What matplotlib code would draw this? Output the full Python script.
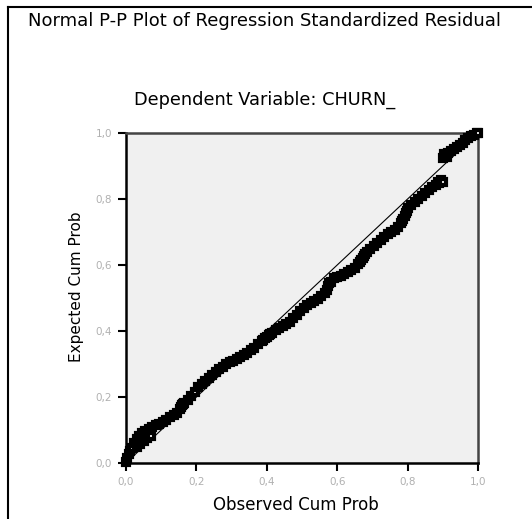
import matplotlib.pyplot as plt
from matplotlib.lines import Line2D

# observed vs expected cumulative probabilities
observed = [0.000, 0.004, 0.008, 0.012, 0.018, 0.024, 0.030, 0.038, 0.046, 0.055,
            0.065, 0.075, 0.085, 0.095, 0.105, 0.115, 0.125, 0.135, 0.145, 0.152,
            0.158, 0.166, 0.175, 0.185, 0.195, 0.205, 0.215, 0.225, 0.235, 0.245,
            0.255, 0.265, 0.275, 0.285, 0.295, 0.305, 0.315, 0.325, 0.335, 0.345,
            0.355, 0.365, 0.375, 0.385, 0.395, 0.405, 0.415, 0.425, 0.435, 0.445,
            0.455, 0.465, 0.475, 0.485, 0.495, 0.505, 0.515, 0.525, 0.535, 0.545,
            0.555, 0.565, 0.575, 0.582, 0.590, 0.600, 0.610, 0.620, 0.630, 0.640,
            0.650, 0.660, 0.668, 0.676, 0.684, 0.694, 0.704, 0.714, 0.724, 0.734,
            0.744, 0.754, 0.764, 0.772, 0.780, 0.788, 0.795, 0.802, 0.810, 0.820,
            0.830, 0.840, 0.850, 0.860, 0.870, 0.880, 0.890, 0.900, 0.885, 0.895,
            0.900, 0.908, 0.916, 0.924, 0.932, 0.940, 0.948, 0.956, 0.964, 0.972,
            0.980, 0.988, 0.996, 1.000, 0.904, 0.912,
            0.030, 0.040, 0.050, 0.060, 0.070, 0.390, 0.400, 0.410,
            0.570, 0.578, 0.664, 0.672, 0.680, 0.784, 0.792, 0.798, 0.155, 0.162]
expected = [0.003, 0.015, 0.028, 0.035, 0.045, 0.060, 0.072, 0.082, 0.090, 0.096,
            0.102, 0.108, 0.114, 0.119, 0.125, 0.131, 0.138, 0.144, 0.152, 0.165,
            0.175, 0.183, 0.192, 0.203, 0.215, 0.229, 0.240, 0.248, 0.257, 0.266,
            0.276, 0.284, 0.292, 0.299, 0.305, 0.309, 0.314, 0.320, 0.327, 0.334,
            0.341, 0.350, 0.360, 0.370, 0.380, 0.388, 0.395, 0.402, 0.408, 0.414,
            0.420, 0.428, 0.438, 0.449, 0.460, 0.470, 0.478, 0.485, 0.492, 0.498,
            0.505, 0.516, 0.535, 0.550, 0.560, 0.564, 0.568, 0.572, 0.578, 0.584,
            0.591, 0.603, 0.615, 0.628, 0.640, 0.650, 0.659, 0.668, 0.677, 0.686,
            0.693, 0.699, 0.705, 0.714, 0.726, 0.740, 0.757, 0.772, 0.782, 0.790,
            0.800, 0.810, 0.819, 0.828, 0.836, 0.842, 0.847, 0.851, 0.852, 0.858,
            0.925, 0.932, 0.938, 0.945, 0.951, 0.958, 0.964, 0.971, 0.978, 0.984,
            0.990, 0.995, 0.999, 1.000, 0.936, 0.926,
            0.050, 0.058, 0.066, 0.075, 0.083, 0.372, 0.382, 0.392,
            0.525, 0.545, 0.609, 0.622, 0.634, 0.733, 0.748, 0.765, 0.170, 0.179]

ticks = [0.0, 0.2, 0.4, 0.6, 0.8, 1.0]
tick_labels = ["0,0", "0,2", "0,4", "0,6", "0,8", "1,0"]

fig = plt.figure(figsize=(5.32, 5.19), dpi=100)
W, H = 532, 519
ax = fig.add_axes([126 / W, (H - 463) / H, 352 / W, 330 / H])
ax.set_facecolor("#f0f0f0")

ax.plot([0, 1], [0, 1], color="black", lw=0.8, zorder=2)
pts = sorted(zip(observed, expected))
ax.plot([p[0] for p in pts], [p[1] for p in pts], ls="none", marker="s",
        ms=5, mfc="white", mec="black", mew=3, zorder=3, clip_on=False)

ax.set_xlim(0, 1)
ax.set_ylim(0, 1)
ax.set_xticks(ticks)
ax.set_xticklabels(tick_labels)
ax.set_yticks(ticks)
ax.set_yticklabels(tick_labels)
ax.tick_params(direction="out", length=6, width=1.5, color="black",
               labelsize=7.5, labelcolor="#b0b0b0", pad=4)

for side in ["left", "bottom"]:
    ax.spines[side].set_linewidth(1.8)
    ax.spines[side].set_color("black")
for side in ["top", "right"]:
    ax.spines[side].set_linewidth(1.8)
    ax.spines[side].set_color("#444444")

fig.text(265 / W, 1 - 21 / H, "Normal P-P Plot of Regression Standardized Residual",
         ha="center", va="center", fontsize=13)
fig.text(265 / W, 1 - 100 / H, "Dependent Variable: CHURN_",
         ha="center", va="center", fontsize=12.8)
fig.text(296 / W, 1 - 505 / H, "Observed Cum Prob",
         ha="center", va="center", fontsize=12)
fig.text(76 / W, 1 - 287 / H, "Expected Cum Prob", rotation=90,
         ha="center", va="center", fontsize=11)

# outer frame lines of the pasted output block
fig.add_artist(Line2D([8 / W, 8 / W], [0, 1 - 7 / H], color="black", lw=1.5))
fig.add_artist(Line2D([8 / W, 1], [1 - 7 / H, 1 - 7 / H], color="black", lw=1.5))

fig.savefig("out.png", dpi=100)
